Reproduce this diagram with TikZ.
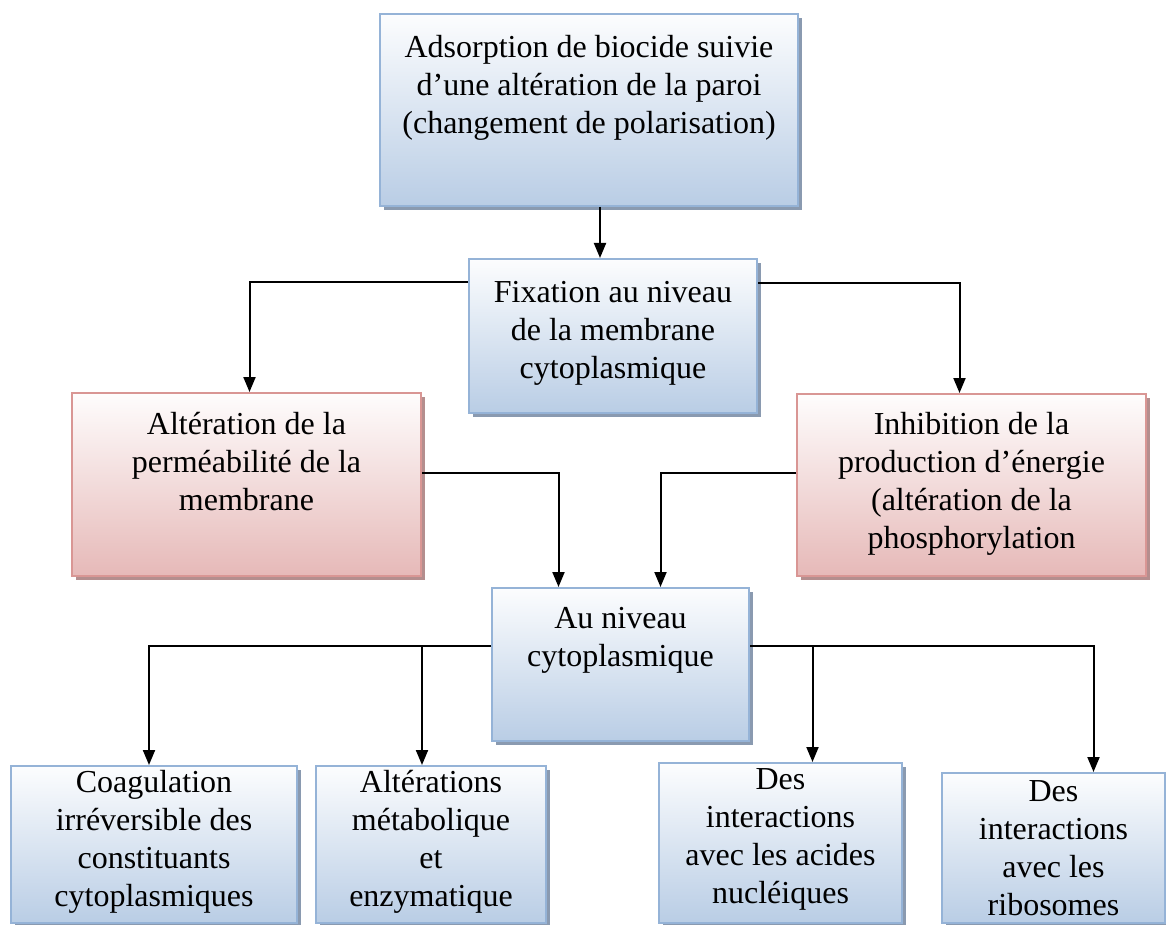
\documentclass[tikz,border=0pt]{standalone}
\usepackage{fontspec}
\setmainfont{Liberation Serif}
\usetikzlibrary{arrows.meta,shadows}
\definecolor{bxblue}{HTML}{B9CDE5}
\definecolor{bxline}{HTML}{95B3D7}
\definecolor{bxshade}{HTML}{8A9AB0}
\definecolor{rdfill}{HTML}{E6B9B8}
\definecolor{rdline}{HTML}{D99694}
\definecolor{rdshade}{HTML}{B48E8E}
\newcommand{\boxtxt}[4]{\parbox[t][#2][t]{#1}{\centering\vspace*{#3}\strut#4}}

\begin{document}
\begin{tikzpicture}[x=0.5pt,y=-0.5pt,
    bx/.style={line width=1pt,inner sep=0pt,anchor=north west,
      font=\fontsize{16}{19}\selectfont},
    b/.style={bx,draw=bxline,top color=white!96!bxblue,bottom color=bxblue,
      drop shadow={shadow xshift=2pt,shadow yshift=-2pt,fill=bxshade,opacity=1}},
    r/.style={bx,draw=rdline,top color=white!97!rdfill,bottom color=rdfill,
      drop shadow={shadow xshift=2pt,shadow yshift=-2pt,fill=rdshade,opacity=1}},
    a/.style={-{Triangle[length=7.5pt,width=6pt]},line width=1pt,black}]
    \useasboundingbox (0,0) rectangle (1166,925);
    \node[b] (adsorp) at (379,13) {\boxtxt{209pt}{96pt}{8.5pt}{Adsorption de biocide suivie\\d’une altération de la paroi\\(changement de polarisation)}};
    \node[b] (fix) at (468,258) {\boxtxt{144pt}{77pt}{8.5pt}{Fixation au niveau\\de la membrane\\cytoplasmique}};
    \node[r] (alter) at (71,392) {\boxtxt{174.5pt}{91.5pt}{7.5pt}{Altération de la\\perméabilité de la\\membrane}};
    \node[r] (inhib) at (796,393) {\boxtxt{174.5pt}{91pt}{7pt}{Inhibition de la\\production d’énergie\\(altération de la\\phosphorylation}};
    \node[b] (niveau) at (491,587) {\boxtxt{128.5pt}{76.5pt}{7pt}{Au niveau\\cytoplasmique}};
    \node[b] (coag) at (10,765) {\boxtxt{143pt}{78.5pt}{0pt}{Coagulation\\irréversible des\\constituants\\cytoplasmiques}};
    \node[b] (metab) at (315,765) {\boxtxt{115pt}{78.5pt}{0pt}{Altérations\\métabolique\\et\\enzymatique}};
    \node[b] (nucl) at (658,762) {\boxtxt{121.5pt}{80pt}{0pt}{Des\\interactions\\avec les acides\\nucléiques}};
    \node[b] (ribo) at (941,772) {\boxtxt{111.5pt}{75pt}{1pt}{Des\\interactions\\avec les\\ribosomes}};
    \draw[a] ([xshift=5.5pt]adsorp.south) -- ([xshift=5.5pt]adsorp.south |- fix.north);
    \draw[a] ([yshift=-12pt]fix.north west) -| ([xshift=1.5pt]alter.north);
    \draw[a] ([yshift=-12.5pt]fix.north east) -| ([xshift=-6pt]inhib.north);
    \draw[a] ([yshift=6pt]alter.east) -| ([xshift=-31pt]niveau.north);
    \draw[a] ([yshift=6pt]inhib.west) -| ([xshift=20pt]niveau.north);
    \coordinate (jl) at ([yshift=-29.5pt]niveau.north west);
    \coordinate (jr) at ([yshift=-29.5pt]niveau.north east);
    \draw[a] (jl) -| ([xshift=-2.5pt]coag.north);
    \draw[a] ([xshift=-4.5pt]metab.north |- jl) -- ([xshift=-4.5pt]metab.north);
    \draw[a] (jr) -| ([xshift=20pt]ribo.north);
    \draw[a] ([xshift=16pt]nucl.north |- jr) -- ([xshift=16pt]nucl.north);
  \end{tikzpicture}
\end{document}
